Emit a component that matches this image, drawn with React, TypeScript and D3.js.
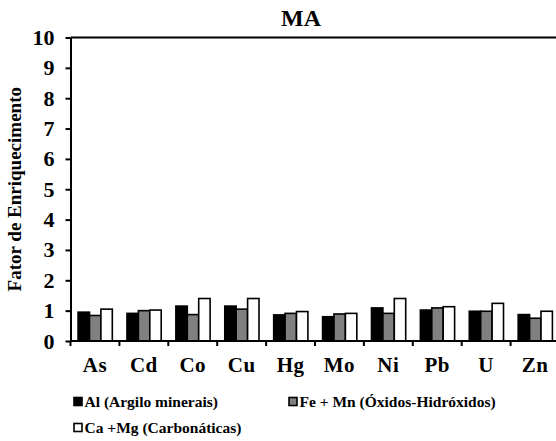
import { useEffect, useRef } from "react";
import * as d3 from "d3";

// Elements on the x axis
const elements = ["As", "Cd", "Co", "Cu", "Hg", "Mo", "Ni", "Pb", "U", "Zn"];

// Series (normalising phase) and their values
const seriesNames = [
  "Al (Argilo minerais)",
  "Fe + Mn (Óxidos-Hidróxidos)",
  "Ca +Mg (Carbonáticas)",
];
const alValues = [0.95, 0.91, 1.15, 1.15, 0.86, 0.8, 1.09, 1.02, 0.98, 0.87];
const feMnValues = [0.84, 1.0, 0.87, 1.05, 0.91, 0.89, 0.91, 1.09, 0.98, 0.75];
const caMgValues = [1.05, 1.02, 1.4, 1.4, 0.97, 0.91, 1.4, 1.13, 1.24, 0.98];

const yTicks = [0, 1, 2, 3, 4, 5, 6, 7, 8, 9, 10];

const width = 556;
const height = 441;
const margin = { top: 37.5, right: -3.5, bottom: 100, left: 70.5 };
const font = "'Liberation Serif', 'Times New Roman', Times, serif";
const fills = ["#000000", "#808080", "#ffffff"];

const drawChart = (node: SVGSVGElement) => {
  const svg = d3.select(node);
  svg.selectAll("*").remove();

  const x = d3
    .scaleBand<string>()
    .domain(elements)
    .range([margin.left, width - margin.right]);

  const bw = x.bandwidth();
  const xInner = d3
    .scaleBand<string>()
    .domain(seriesNames)
    .range([bw * 0.155, bw * 0.855]);

  const y = d3
    .scaleLinear()
    .domain([0, 10])
    .range([height - margin.bottom, margin.top]);

  const valuesBySeries = [alValues, feMnValues, caMgValues];

  // title
  svg
    .append("text")
    .attr("x", 301)
    .attr("y", 26)
    .attr("text-anchor", "middle")
    .attr("font-family", font)
    .attr("font-weight", "bold")
    .attr("font-size", 24)
    .text("MA");

  // bars
  const groups = svg
    .selectAll("g.group")
    .data(elements)
    .join("g")
    .attr("class", "group")
    .attr("transform", (d) => `translate(${x(d)},0)`);

  groups
    .selectAll("rect")
    .data((_, i) => seriesNames.map((s, k) => ({ s, k, v: valuesBySeries[k][i] })))
    .join("rect")
    .attr("x", (d) => xInner(d.s)!)
    .attr("y", (d) => y(d.v))
    .attr("width", xInner.bandwidth())
    .attr("height", (d) => y(0) - y(d.v))
    .attr("fill", (d) => fills[d.k])
    .attr("stroke", "#000")
    .attr("stroke-width", 1.6);

  // top border
  svg
    .append("line")
    .attr("x1", margin.left)
    .attr("x2", width - margin.right)
    .attr("y1", y(10))
    .attr("y2", y(10))
    .attr("stroke", "#000")
    .attr("stroke-width", 2);

  // y axis
  const yAxis = svg
    .append("g")
    .attr("transform", `translate(${margin.left},0)`)
    .call(d3.axisLeft(y).tickValues(yTicks).tickSize(5).tickSizeOuter(0).tickPadding(11));
  yAxis.select(".domain").attr("stroke-width", 2);
  yAxis.selectAll(".tick line").attr("stroke-width", 2);
  yAxis
    .selectAll(".tick text")
    .attr("font-family", font)
    .attr("font-weight", "bold")
    .attr("font-size", 22)
    .attr("fill", "#000");

  // x axis with ticks between bands
  const xAxis = svg.append("g");
  xAxis
    .append("line")
    .attr("x1", margin.left)
    .attr("x2", width - margin.right)
    .attr("y1", y(0))
    .attr("y2", y(0))
    .attr("stroke", "#000")
    .attr("stroke-width", 2);
  const boundaries = [...elements.map((d) => x(d)!), x.range()[1]];
  xAxis
    .selectAll("line.tick")
    .data(boundaries)
    .join("line")
    .attr("class", "tick")
    .attr("x1", (d) => d)
    .attr("x2", (d) => d)
    .attr("y1", y(0))
    .attr("y2", y(0) + 5)
    .attr("stroke", "#000")
    .attr("stroke-width", 2);
  xAxis
    .selectAll("text")
    .data(elements)
    .join("text")
    .attr("x", (d) => x(d)! + bw / 2)
    .attr("y", y(0) + 31)
    .attr("text-anchor", "middle")
    .attr("font-family", font)
    .attr("font-weight", "bold")
    .attr("font-size", 21)
    .attr("letter-spacing", 0.5)
    .text((d) => d);

  // y axis title
  svg
    .append("text")
    .attr("transform", `translate(21,${(y(0) + y(10)) / 2}) rotate(-90)`)
    .attr("text-anchor", "middle")
    .attr("font-family", font)
    .attr("font-weight", "bold")
    .attr("font-size", 19)
    .text("Fator de Enriquecimento");

  // legend
  const legendPos = [
    [73, 407],
    [288, 407],
    [73, 433],
  ];
  const legend = svg
    .selectAll("g.legend")
    .data(seriesNames)
    .join("g")
    .attr("class", "legend")
    .attr("transform", (_, i) => `translate(${legendPos[i][0]},${legendPos[i][1]})`);
  legend
    .append("rect")
    .attr("x", 1)
    .attr("y", -9.5)
    .attr("width", 8)
    .attr("height", 8)
    .attr("fill", (_, i) => fills[i])
    .attr("stroke", "#000")
    .attr("stroke-width", 1.6);
  legend
    .append("text")
    .attr("x", 11.5)
    .attr("y", 0)
    .attr("font-family", font)
    .attr("font-weight", "bold")
    .attr("font-size", 15.5)
    .text((d) => d);
};

export default function App() {
  const ref = useRef<SVGSVGElement>(null);

  useEffect(() => {
    if (ref.current) drawChart(ref.current);
  }, []);

  return (
    <svg
      ref={ref}
      width={width}
      height={height}
      style={{ position: "absolute", left: 0, top: 0, background: "#fff" }}
    />
  );
}
